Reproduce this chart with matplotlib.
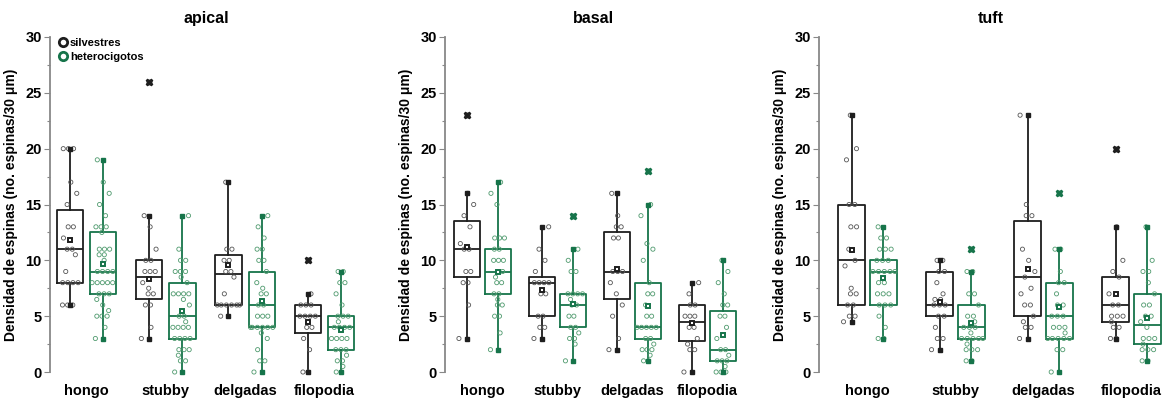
import numpy as np
import matplotlib
matplotlib.use("Agg")
import matplotlib.pyplot as plt
from matplotlib.lines import Line2D

plt.rcParams["font.family"] = ["Liberation Sans", "DejaVu Sans"]
plt.rcParams["font.weight"] = "bold"

categories = ["hongo", "stubby", "delgadas", "filopodia"]
panels = ["apical", "basal", "tuft"]
groups = ["silvestres", "heterocigotos"]

# box stats: per panel, per category, (silvestres, heterocigotos)
# (q1, median, q3, whisker low, whisker high, mean)
apical_stats = [
    [(8, 11, 14.5, 6, 20, 11.8), (7, 9, 12.5, 3, 19, 9.7)],
    [(6.5, 8.5, 10, 3, 14, 8.3), (3, 5, 8, 0, 14, 5.5)],
    [(6, 8.75, 10.5, 5, 17, 9.6), (4, 6, 9, 0, 14, 6.35)],
    [(3.5, 5, 6, 0, 7, 4.5), (2, 4, 5, 0, 9, 3.8)],
]
basal_stats = [
    [(8.5, 11, 13.5, 3, 16, 11.2), (7, 9, 11, 2, 17, 9.0)],
    [(5, 8, 8.5, 3, 13, 7.3), (4, 6, 7, 1, 11, 6.1)],
    [(6.5, 9, 12.5, 2, 16, 9.2), (3, 4, 8, 1, 15, 5.9)],
    [(2.75, 4.5, 6, 0, 8, 4.4), (1, 2, 5.5, 0, 10, 3.3)],
]
tuft_stats = [
    [(6, 10, 15, 4.5, 23, 10.9), (6, 9, 10, 3, 13, 8.4)],
    [(5, 6, 9, 2, 10, 6.3), (3, 4, 6, 1, 9, 4.4)],
    [(5, 8.5, 13.5, 3, 23, 9.2), (3, 5, 8, 0, 11, 5.8)],
    [(4.5, 6, 8.5, 3, 13, 7.0), (2.5, 4.25, 7, 1, 13, 4.8)],
]

# outliers drawn as x
apical_out = [[[], []], [[26], []], [[], []], [[10], []]]
basal_out = [[[23], []], [[], [14]], [[], [18]], [[], []]]
tuft_out = [[[], []], [[], [11]], [[], [16]], [[20], []]]

# individual measurements
apical_pts = [
    [[20, 20, 20, 17, 16, 15, 13, 13, 12, 11, 11, 10.5, 9, 8, 8, 8, 8, 6, 6, 6],
     [19, 17, 16, 15, 14, 13, 13, 13, 12.5, 11, 11, 11, 10.5, 10.5, 10, 9, 9, 9, 9,
      8, 8, 8, 8, 8, 7, 7, 7, 6.5, 6, 5.5, 5, 5, 5, 4, 3]],
    [[14, 13, 11, 10, 10, 9, 9, 9, 8, 7.5, 7, 7, 6, 6, 4, 3],
     [14, 11, 10, 10, 9, 9, 9, 8.5, 8, 7, 7, 7, 7, 6.5, 6, 5, 5, 4.5, 4, 4, 4, 4,
      3, 3, 3, 3, 2, 2, 2, 1.5, 1, 1, 0]],
    [[17, 11, 11, 10, 10, 9, 9, 8.5, 7, 6, 6, 6, 6, 6, 6, 5],
     [14, 13, 12, 11, 11, 10, 10, 9, 8, 7.5, 7, 7, 6, 6, 5, 5, 5, 4, 4, 4, 4, 4, 4,
      3.5, 3, 2, 1, 1, 0]],
    [[7, 6, 6, 6, 5, 5, 5, 5, 4, 4, 3, 2, 0, 0],
     [9, 9, 8, 8, 7, 6, 5, 5, 5, 4.5, 4, 4, 4, 4, 3, 3, 3, 3, 2, 2, 2, 1.5, 1, 1,
      0.5, 0, 0]],
]
basal_pts = [
    [[16, 15, 14, 13, 11.5, 11, 11, 9, 9, 8, 8, 6, 3],
     [17, 16, 15, 12, 12, 12, 11, 11, 10, 10, 10, 9, 9, 8.5, 8, 8, 7, 7, 6.5, 6, 6,
      5, 5, 3.5, 2]],
    [[13, 11, 10, 9, 8, 8, 8, 8, 7, 7, 5, 5, 4, 4, 3],
     [11, 10, 9, 9, 7, 7, 7, 7, 6.5, 6, 6, 5, 5, 4, 4, 3.5, 3, 3, 2.5, 1]],
    [[16, 14, 13, 13, 12, 12, 9, 9, 9, 8, 7, 6, 5, 3, 2],
     [15, 14, 11.5, 11, 10, 8, 7, 7, 6, 5, 5, 4, 4, 4, 4, 4, 3, 3, 2.5, 2, 2, 2,
      1.5, 1, 1]],
    [[8, 7, 6, 6, 5, 5, 5, 4, 4, 3, 2.5, 2, 2, 0],
     [10, 9, 8, 7, 6, 6, 5, 5, 4, 3, 2, 2, 1.5, 1, 1, 1, 0.5, 0, 0, 0]],
]
tuft_pts = [
    [[23, 20, 19, 15, 15, 13, 13, 11, 10, 9.5, 7.5, 7, 7, 6, 6, 5, 5, 4.5],
     [13, 12, 12, 11, 11, 11, 10, 10, 10, 9, 9, 9, 9, 9, 8, 8, 7, 7, 7, 6, 6, 6,
      5, 4, 3, 3]],
    [[10, 10, 9, 9, 8, 7, 6.5, 6.5, 6, 6, 6, 5, 5, 4, 3, 3, 2],
     [9, 9, 7, 7, 6, 5, 5, 4.5, 4, 4, 4, 3.5, 3, 3, 3, 3, 3, 2.5, 2, 2, 2, 1, 1]],
    [[23, 15, 14, 14, 11, 10, 9, 8.5, 7.5, 7, 6, 6, 5, 4.5, 4, 4, 3],
     [11, 11, 9, 8, 8, 7, 6, 6, 5, 5, 5, 4, 4, 4, 3.5, 3, 3, 3, 3, 3, 2, 2, 0]],
    [[13, 10, 9, 8.5, 7, 6, 6, 5, 5, 5, 4.5, 4, 4, 3, 3],
     [13, 10, 9, 9, 8, 7, 6, 6, 5, 5, 4.5, 4, 3, 3, 3, 2.5, 2, 2, 2, 1, 1]],
]

all_stats = [apical_stats, basal_stats, tuft_stats]
all_out = [apical_out, basal_out, tuft_out]
all_pts = [apical_pts, basal_pts, tuft_pts]

edge_cols = ["#1e1e1e", "#16744a"]
pt_cols = ["#555555", "#4f9a6e"]

W, H = 1164, 398
fig = plt.figure(figsize=(W / 100, H / 100), dpi=100)

# pixel layout per panel: axis left x, unit px, first category center, group offset, box width
layout = [
    dict(left=50, right=362, c0=86.5, unit=79.3, off=0.21, bw=0.33),
    dict(left=445, right=742, c0=482.5, unit=75.0, off=0.21, bw=0.35),
    dict(left=819, right=1163, c0=867.5, unit=88.0, off=0.18, bw=0.31),
]
top_px, bot_px = 37, 372


def spread(vals, center, half):
    vals = np.asarray(vals, float)
    xs = np.empty_like(vals)
    step = 0.065
    k = 0
    for v in np.unique(vals):
        idx = np.where(vals == v)[0]
        c = len(idx)
        if c == 1:
            xs[idx] = center + ((k * 0.618) % 1 - 0.5) * 1.4 * half
            k += 1
        else:
            pos = (np.arange(c) - (c - 1) / 2) * step
            shift = ((k * 0.618) % 1 - 0.5) * 0.4 * half
            k += 1
            xs[idx] = center + np.clip(pos + shift, -half, half)
    return xs


for p, name in enumerate(panels):
    L = layout[p]
    x0 = -(L["c0"] - L["left"]) / L["unit"]
    x1 = (L["right"] - L["c0"]) / L["unit"]
    ax = fig.add_axes([L["left"] / W, 1 - bot_px / H,
                       (L["right"] - L["left"]) / W, (bot_px - top_px) / H])
    ax.set_xlim(x0, x1)
    ax.set_ylim(0, 30)

    for i in range(len(categories)):
        for g in range(2):
            q1, med, q3, lo, hi, mean = all_stats[p][i][g]
            xc = i + (-L["off"] if g == 0 else L["off"])
            col = edge_cols[g]
            ax.bxp([dict(q1=q1, med=med, q3=q3, whislo=lo, whishi=hi, fliers=[])],
                   positions=[xc], widths=L["bw"], showfliers=False, showcaps=False,
                   boxprops=dict(color=col, linewidth=1.3),
                   medianprops=dict(color=col, linewidth=1.3),
                   whiskerprops=dict(color=col, linewidth=1.3),
                   manage_ticks=False)
            ax.plot([xc, xc], [lo, hi], ls="none", marker="s", ms=3.5,
                    color=col, clip_on=False, zorder=4)
            pts = all_pts[p][i][g]
            xs = spread(pts, xc, L["bw"] / 2 * 0.85)
            ax.scatter(xs, pts, s=9, facecolors="none", edgecolors=pt_cols[g],
                       linewidths=0.6, zorder=3, clip_on=False)
            ax.plot([xc], [mean], marker="s", ms=3.5, mfc="white", mec=col,
                    mew=1.4, ls="none", zorder=5)
            out = all_out[p][i][g]
            if out:
                ax.plot([xc] * len(out), out, marker="X", ms=4.5, color=col,
                        ls="none", zorder=5, clip_on=False)

    ax.set_xticks(range(len(categories)))
    ax.set_xticklabels(categories, fontsize=10.5, fontweight="bold")
    ax.tick_params(axis="x", length=0, pad=9)
    ax.set_yticks([0, 5, 10, 15, 20, 25, 30])
    ax.set_yticks(np.arange(2.5, 30, 5), minor=True)
    ax.tick_params(axis="y", labelsize=10.5, length=4, width=0.8, pad=2,
                   colors="#888888", labelcolor="black")
    ax.tick_params(axis="y", which="minor", length=2.5, width=0.8, colors="#888888")
    for t in ax.get_yticklabels():
        t.set_fontweight("bold")
    for s in ["top", "right", "bottom"]:
        ax.spines[s].set_visible(False)
    ax.spines["left"].set_color("#888888")
    ax.spines["left"].set_linewidth(1.3)
    ax.set_ylabel("Densidad de espinas (no. espinas/30 \u03bcm)", fontsize=10,
                  fontweight="bold", labelpad=5)
    ax.set_title(name, fontsize=11.5, fontweight="bold", pad=10)

    if p == 0:
        handles = [Line2D([], [], ls="none", marker="o", ms=6, mfc="none",
                          mec=edge_cols[g], mew=2) for g in range(2)]
        ax.legend(handles, groups, loc="upper left", bbox_to_anchor=(0.0, 1.02),
                  frameon=False, handletextpad=0.1, borderaxespad=0.3,
                  labelspacing=0.35, handlelength=1.0,
                  prop=dict(size=8, weight="bold"))

fig.savefig("out.png", dpi=100)
